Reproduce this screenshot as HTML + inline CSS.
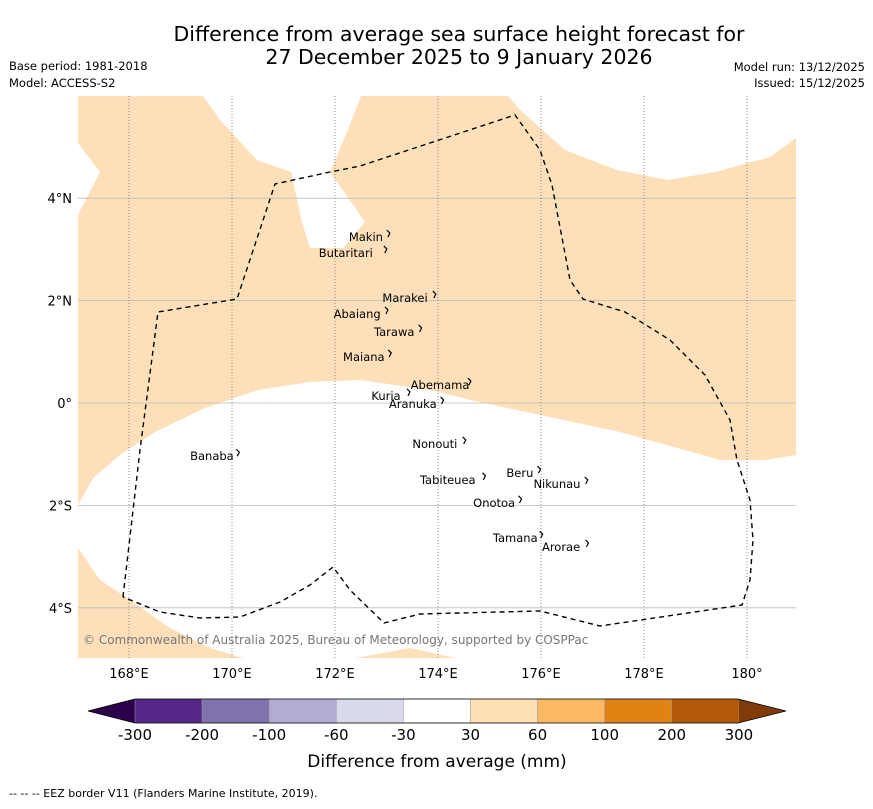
<!DOCTYPE html>
<html><head><meta charset="utf-8"><style>
body{margin:0;background:#fff;width:873px;height:804px;overflow:hidden;font-family:"Liberation Sans","DejaVu Sans",sans-serif}
svg text{font-family:"DejaVu Sans","Liberation Sans",sans-serif}
</style></head><body>
<svg id="c" width="873" height="804" xmlns="http://www.w3.org/2000/svg">
<text x="459" y="41" font-size="20.5" text-anchor="middle">Difference from average sea surface height forecast for</text>
<text x="459" y="64" font-size="20.5" text-anchor="middle">27 December 2025 to 9 January 2026</text>
<text x="9" y="70" font-size="11.5">Base period: 1981-2018</text>
<text x="9" y="87" font-size="11.5">Model: ACCESS-S2</text>
<text x="865" y="71" font-size="11.5" text-anchor="end">Model run: 13/12/2025</text>
<text x="865" y="87" font-size="11.5" text-anchor="end">Issued: 15/12/2025</text>
<defs><clipPath id="mc"><rect x="78" y="96" width="718" height="562"/></clipPath></defs>
<g id="map" clip-path="url(#mc)"></g>
<g id="ax"></g>
<g id="cb"></g>
<text x="437" y="767" font-size="17" text-anchor="middle">Difference from average (mm)</text>
<text x="9" y="797" font-size="11">--  --  -- EEZ border V11 (Flanders Marine Institute, 2019).</text>
</svg>
<script>
const lonTicks=[168,170,172,174,176,178,180];
const lonLabels=["168°E","170°E","172°E","174°E","176°E","178°E","180°"];
const latTicks=[4,2,0,-2,-4];
const latLabels=["4°N","2°N","0°","2°S","4°S"];
const cbColors=["#2d004b","#542788","#8073ac","#b2abd2","#d8daeb","#ffffff","#fee0b6","#fdb863","#e08214","#b35806","#7f3b08"];
const cbLabels=["-300","-200","-100","-60","-30","30","60","100","200","300"];
const islandNames=["Makin","Butaritari","Marakei","Abaiang","Tarawa","Maiana","Abemama","Kuria","Aranuka","Nonouti","Banaba","Tabiteuea","Beru","Nikunau","Onotoa","Tamana","Arorae"];
const islandLon=[172.60,172.21,173.36,172.43,173.15,172.56,174.04,172.99,173.51,173.94,169.61,174.19,175.59,176.31,175.09,175.50,176.39];
const islandLat=[3.24,2.93,2.05,1.74,1.39,0.90,0.35,0.14,-0.02,-0.80,-1.04,-1.50,-1.37,-1.58,-1.95,-2.64,-2.81];
const X=lon=>129+(lon-168)*51.5;
const Y=lat=>403-lat*51.2;
const NS="http://www.w3.org/2000/svg";
function mk(t,a,p){const e=document.createElementNS(NS,t);for(const k in a)e.setAttribute(k,a[k]);p.appendChild(e);return e;}
const map=document.getElementById('map'),ax=document.getElementById('ax'),cb=document.getElementById('cb');
function P(pts){return pts.map(p=>X(p[0]).toFixed(1)+","+Y(p[1]).toFixed(1)).join(" ");}
const px=(x,y)=>[168+(x-129)/51.5,(403-y)/51.2];
const shapeA=[[78,96],[203,96],[220,120],[257,160],[291,172],[302,222],[310,248],[343,248],[365,222],[330,172],[348,130],[361,96],[508,96],[520,110],[565,150],[617,170],[668,180],[715,172],[770,157],[796,138],[796,455],[765,460],[720,460],[620,432],[540,415],[470,400],[430,390],[360,380],[310,382],[258,390],[205,408],[155,432],[120,455],[93,478],[78,505],[78,215],[100,172],[78,143]].map(p=>px(p[0],p[1]));
const shapeB=[[78,548],[100,580],[130,600],[170,628],[210,648],[250,660],[78,660]].map(p=>px(p[0],p[1]));
const shapeC=[[345,660],[410,648],[465,660]].map(p=>px(p[0],p[1]));
let s=mk('polygon',{points:P(shapeA),fill:"#fde0b9"},map);


s=mk('polygon',{points:P(shapeB),fill:"#fde0b9"},map);


s=mk('polygon',{points:P(shapeC),fill:"#fde0b9"},map);


latTicks.forEach((v,i)=>{const l=mk('line',{x1:78,x2:796,y1:Y(v),y2:Y(v),stroke:"#bbb","stroke-width":0.8},map);


const t=mk('text',{x:72,y:Y(v)+5,"font-size":13,"text-anchor":"end"},ax);t.textContent=latLabels[i];

});
lonTicks.forEach((v,i)=>{const l=mk('line',{x1:X(v),x2:X(v),y1:96,y2:658,stroke:"#666","stroke-width":0.7,"stroke-dasharray":"1,2"},map);


const t=mk('text',{x:X(v),y:678,"font-size":13,"text-anchor":"middle"},ax);t.textContent=lonLabels[i];

});
const eez=[[123,597],[140,450],[158,312],[237,299],[275,184],[330,172],[360,166],[515,115],[540,150],[552,185],[570,280],[583,299],[625,312],[670,340],[705,375],[730,420],[737,460],[750,500],[753,540],[750,580],[742,605],[600,626],[540,611],[420,614],[384,623],[350,590],[333,567],[310,585],[280,602],[240,617],[200,618],[160,612],[123,597]].map(p=>px(p[0],p[1]));
s=mk('polyline',{points:P(eez),fill:"none",stroke:"#000","stroke-width":1.4,"stroke-dasharray":"5,4"},map);


islandNames.forEach((n,i)=>{const x=X(islandLon[i]),y=Y(islandLat[i]);
const t=mk('text',{x:x,y:y+4,"font-size":11.5,"text-anchor":"middle"},map);t.textContent=n;


const w=n.length*3.4;
const d=mk('path',{d:`M${x+w+4},${y-7} l3,3 l-2,4`,stroke:"#000",fill:"none","stroke-width":1.2},map);

});
s=mk('text',{x:83,y:644,"font-size":12,fill:"#777"},map);s.textContent="© Commonwealth of Australia 2025, Bureau of Meteorology, supported by COSPPac";


const cx0=135,cw=67.1,cy=699,ch=24;
cbColors.forEach((c,i)=>{let e;
if(i===0)e=mk('polygon',{points:`${cx0},${cy} ${cx0},${cy+ch} 88,${cy+ch/2}`,fill:c},cb);
else if(i===cbColors.length-1){const xr=cx0+(i-1)*cw;e=mk('polygon',{points:`${xr},${cy} ${xr},${cy+ch} 786,${cy+ch/2}`,fill:c},cb);}
else e=mk('rect',{x:cx0+(i-1)*cw,y:cy,width:cw,height:ch,fill:c,stroke:"#999","stroke-width":0.5},cb);

});
s=mk('polygon',{points:`88,${cy+ch/2} ${cx0},${cy} 738,${cy} 786,${cy+ch/2} 738,${cy+ch} ${cx0},${cy+ch}`,fill:"none",stroke:"#000","stroke-width":0.8},cb);


cbLabels.forEach((l,i)=>{const t=mk('text',{x:cx0+i*cw,y:740,"font-size":15,"text-anchor":"middle"},cb);t.textContent=l;

});
</script>
</body></html>
